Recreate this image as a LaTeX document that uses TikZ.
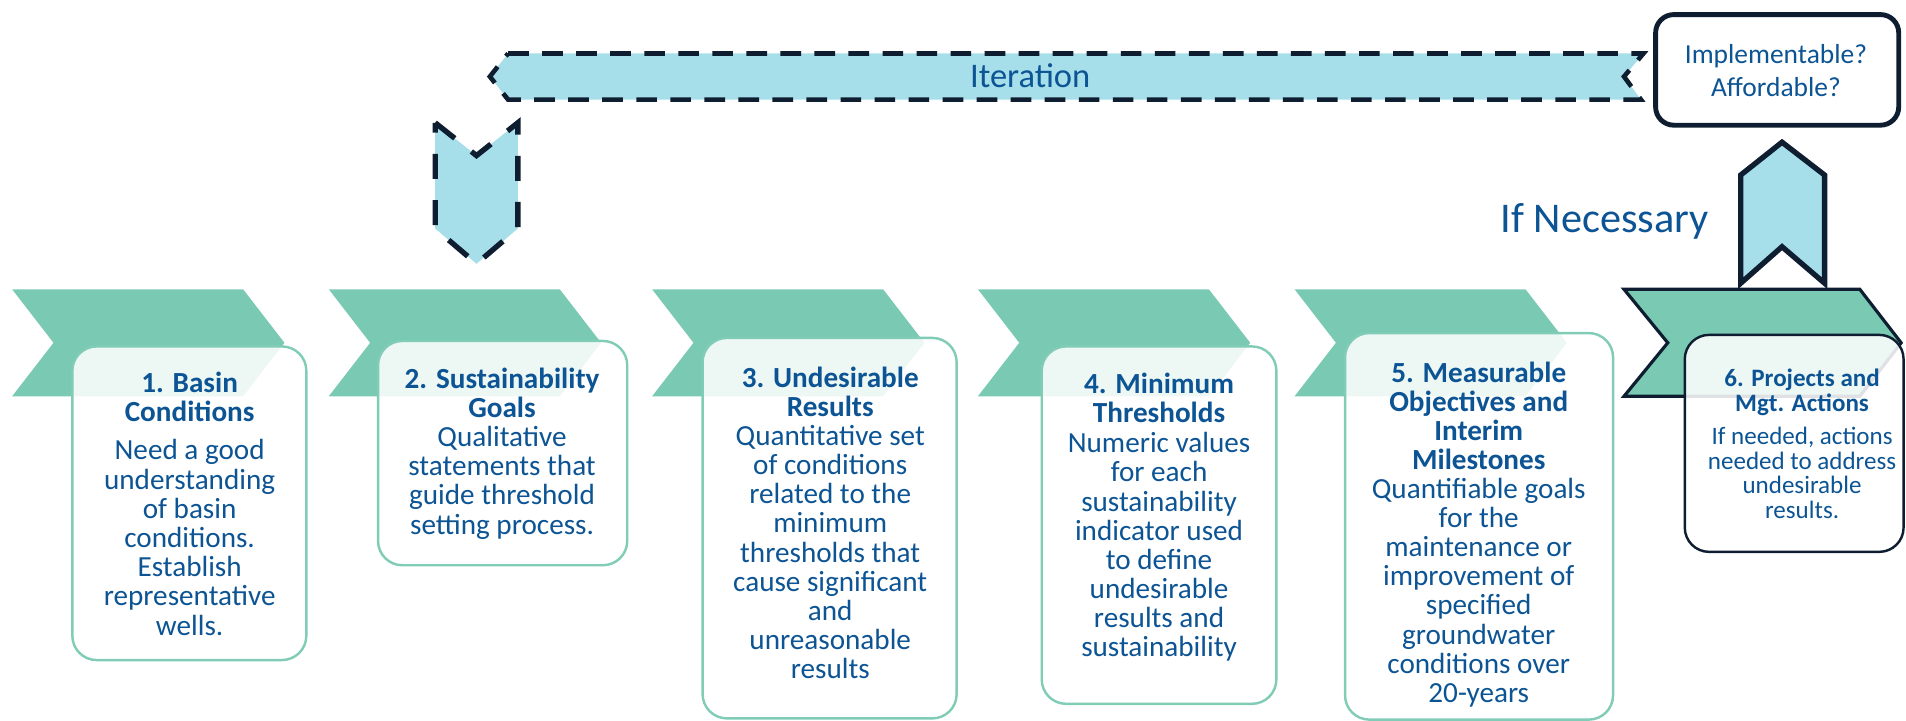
\documentclass[tikz,border=0pt]{standalone}
\usepackage{fontspec}
\setmainfont{Carlito}

\definecolor{tealfill}{HTML}{79C9B3}
\definecolor{tealline}{HTML}{80CCB6}
\definecolor{bandfill}{HTML}{A6DEEA}
\definecolor{navy}{HTML}{0E1E30}
\definecolor{textblue}{HTML}{0C5494}

\tikzset{every picture/.style={line width=0.75pt}}
\tikzset{
  chevron/.style={fill=tealfill, draw=none},
  lastchevron/.style={fill=tealfill, draw=navy, line width=1.3pt, line join=miter},
  card/.style={draw=tealline, line width=1pt, fill=white, fill opacity=0.87, rounded corners=10pt},
  lastcard/.style={card, draw=navy},
  loopband/.style={fill=bandfill, draw=navy, line width=1.9pt, dash pattern=on 8.5pt off 5.5pt},
  loopdown/.style={fill=bandfill, draw=navy, line width=2.2pt, dash pattern=on 10.3pt off 8.7pt},
  upbadge/.style={fill=bandfill, draw=navy, line width=2.2pt, line join=miter},
  checkbox/.style={fill=white, draw=navy, line width=2pt, rounded corners=7.5pt},
  cardtitle/.style={anchor=north, inner sep=0pt, align=center, text=textblue, font=\fontsize{12}{12}\selectfont\bfseries},
  cardbody/.style={anchor=north, inner sep=0pt, align=center, text=textblue, font=\fontsize{12}{12}\selectfont},
  smalltitle/.style={cardtitle, font=\fontsize{10.3}{10.3}\selectfont\bfseries},
  smallbody/.style={cardbody, font=\fontsize{10.3}{10.2}\selectfont},
  banner/.style={anchor=base, inner sep=0pt, text=textblue}
}

\begin{document}
\begin{tikzpicture}[x=0.5pt,y=0.5pt,yscale=-1,xscale=1]
\useasboundingbox (0,0) rectangle (1568,593);

%Shape: Chevron [id:chev1]
\draw [chevron] (10,238) -- (200,238) -- (234,282) -- (200,326) -- (10,326) -- (44,282) -- cycle ;
%Shape: Chevron [id:chev2]
\draw [chevron] (270.5,238) -- (460.5,238) -- (494.5,282) -- (460.5,326) -- (270.5,326) -- (304.5,282) -- cycle ;
%Shape: Chevron [id:chev3]
\draw [chevron] (536.5,238) -- (726.5,238) -- (760.5,282) -- (726.5,326) -- (536.5,326) -- (570.5,282) -- cycle ;
%Shape: Chevron [id:chev4]
\draw [chevron] (804.5,238) -- (994.5,238) -- (1028.5,282) -- (994.5,326) -- (804.5,326) -- (838.5,282) -- cycle ;
%Shape: Chevron [id:chev5]
\draw [chevron] (1065,238) -- (1255,238) -- (1289,282) -- (1255,326) -- (1065,326) -- (1099,282) -- cycle ;
%Shape: Chevron [id:chev6]
\draw [lastchevron] (1336,238) -- (1530,238) -- (1564,282) -- (1530,326) -- (1336,326) -- (1372,282) -- cycle ;

%Shape: Rounded Rect [id:card1]
\draw [card] (59.5,285) rectangle (252,543) ;
%Shape: Rounded Rect [id:card2]
\draw [card] (311,280.5) rectangle (516,465) ;
%Shape: Rounded Rect [id:card3]
\draw [card] (578,278) rectangle (787,591) ;
%Shape: Rounded Rect [id:card4]
\draw [card] (857,285) rectangle (1050,579) ;
%Shape: Rounded Rect [id:card5]
\draw [card] (1106.5,274) rectangle (1327,592) ;
%Shape: Rounded Rect [id:card6]
\draw [lastcard] (1386,275.5) rectangle (1566,454) ;

%Shape: Band Arrow [id:loop]
\draw [loopband] (418,44) -- (1352,44) -- (1336,63) -- (1350,82) -- (418,82) -- (403,63) -- cycle ;
%Shape: Down Arrow [id:loopdown]
\draw [loopdown] (358,101) -- (392,128) -- (426,101) -- (426,188) -- (392,217) -- (358,188) -- cycle ;
%Shape: Up Arrow [id:up]
\draw [upbadge] (1466,117) -- (1501,144) -- (1501,233) -- (1466,203) -- (1432,233) -- (1432,144) -- cycle ;
%Shape: Rounded Rect [id:check]
\draw [checkbox] (1362,12) rectangle (1562,103) ;

% Text Node
\draw (847.5,72) node (iteration) [banner, font=\fontsize{14.2}{14.2}\selectfont] {Iteration};
% Text Node
\draw (1320,191) node (ifnec) [banner, font=\fontsize{17.4}{17.4}\selectfont] {If Necessary};
% Text Node
\draw (1461,36) node (check) [cardbody, font=\fontsize{11.3}{13.4}\selectfont] {Implementable?\\Affordable?};

% Text Node
\draw (156,305) node (title1) [cardtitle] {1. Basin\\Conditions};
% Text Node
\draw (156,361) node (body1) [cardbody] {Need a good\\understanding\\of basin\\conditions.\\Establish\\representative\\wells.};
% Text Node
\draw (413,302) node (title2) [cardtitle] {2. Sustainability\\Goals};
% Text Node
\draw (413,350) node (body2) [cardbody] {Qualitative\\statements that\\guide threshold\\setting process.};
% Text Node
\draw (683,301) node (title3) [cardtitle] {3. Undesirable\\Results};
% Text Node
\draw (683,349) node (body3) [cardbody] {Quantitative set\\of conditions\\related to the\\minimum\\thresholds that\\cause significant\\and\\unreasonable\\results};
% Text Node
\draw (953.5,306) node (title4) [cardtitle] {4. Minimum\\Thresholds};
% Text Node
\draw (953.5,355) node (body4) [cardbody] {Numeric values\\for each\\sustainability\\indicator used\\to define\\undesirable\\results and\\sustainability};
% Text Node
\draw (1216.5,297) node (title5) [cardtitle] {5. Measurable\\Objectives and\\Interim\\Milestones};
% Text Node
\draw (1216.5,392.5) node (body5) [cardbody] {Quantifiable goals\\for the\\maintenance or\\improvement of\\specified\\groundwater\\conditions over\\20-years};
% Text Node
\draw (1482.5,302.5) node (title6) [smalltitle] {6. Projects and\\Mgt. Actions};
% Text Node
\draw (1482.5,350.5) node (body6) [smallbody] {If needed, actions\\needed to address\\undesirable\\results.};

\end{tikzpicture}
\end{document}
